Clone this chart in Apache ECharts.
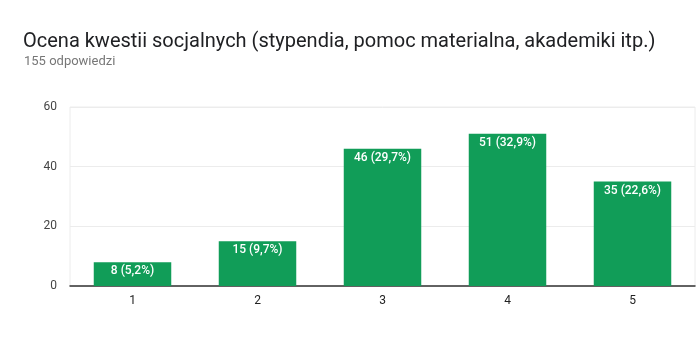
<!DOCTYPE html>
<html><head><meta charset="utf-8">
<script src="https://cdn.jsdelivr.net/npm/echarts@6/dist/echarts.min.js"></script>
<style>html,body{margin:0;padding:0;background:#fff}#c{width:696px;height:361px}</style>
</head><body><div id="c"></div>
<script>
const titleText = 'Ocena kwestii socjalnych (stypendia, pomoc materialna, akademiki itp.)';
const subtitleText = '155 odpowiedzi';
const categories = ['1', '2', '3', '4', '5'];
const counts = [8, 15, 46, 51, 35];
const percents = ['5,2%', '9,7%', '29,7%', '32,9%', '22,6%'];
const yTicks = [0, 20, 40, 60];

const chart = echarts.init(document.getElementById('c'), null, {renderer: 'canvas'});
chart.setOption({
  animation: false,
  textStyle: {fontFamily: 'Roboto'},
  title: [
    {text: titleText, left: 23, top: 32, padding: 0, textStyle: {fontSize: 20, fontWeight: 'normal', color: '#202124', fontFamily: 'Roboto'}},
    {text: subtitleText, left: 24, top: 55, padding: 0, textStyle: {fontSize: 13, fontWeight: 'normal', color: '#777', fontFamily: 'Roboto'}}
  ],
  grid: {left: 70, right: 1, top: 107, bottom: 75, show: true, borderColor: '#ececec', borderWidth: 1, containLabel: false},
  xAxis: {
    type: 'category', data: categories,
    axisLine: {lineStyle: {color: '#333', width: 1.5}},
    axisTick: {show: false},
    axisLabel: {color: '#222', fontSize: 12, margin: 9}
  },
  yAxis: {
    type: 'value', min: yTicks[0], max: yTicks[yTicks.length - 1], interval: 20,
    axisLine: {show: false}, axisTick: {show: false},
    axisLabel: {color: '#444', fontSize: 12, margin: 13},
    splitLine: {lineStyle: {color: '#ececec'}}
  },
  series: [{
    type: 'bar', data: counts, barWidth: '62%',
    itemStyle: {color: '#119d58'},
    label: {
      show: true, position: 'insideTop', distance: 3, color: '#fff', fontSize: 12, fontWeight: 500,
      formatter: p => counts[p.dataIndex] + ' (' + percents[p.dataIndex] + ')'
    }
  }]
});
</script></body></html>
